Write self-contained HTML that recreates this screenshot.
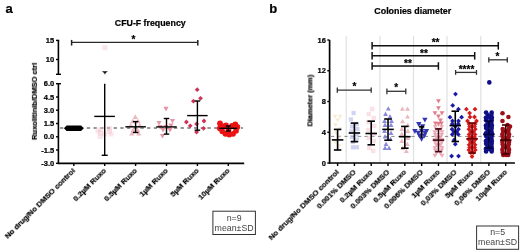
<!DOCTYPE html>
<html><head><meta charset="utf-8"><style>
html,body{margin:0;padding:0;background:#fff;}
svg{display:block;font-family:"Liberation Sans", sans-serif;}
text{will-change:transform;}
text[font-weight="bold"]{stroke:#000;stroke-width:0.22px;}
</style></head><body>
<svg width="520" height="251" viewBox="0 0 520 251">
<rect width="520" height="251" fill="#fff"/>
<text x="5.50" y="13.30" font-size="13" font-weight="bold" text-anchor="start" fill="#000" >a</text>
<text x="114.80" y="26.00" font-size="8.8" font-weight="bold" text-anchor="start" fill="#000" >CFU-F frequency</text>
<line x1="58.40" y1="40.40" x2="58.40" y2="74.30" stroke="#000" stroke-width="1.6" />
<line x1="56.00" y1="40.40" x2="59.20" y2="40.40" stroke="#000" stroke-width="1.4" />
<line x1="56.00" y1="59.50" x2="58.40" y2="59.50" stroke="#000" stroke-width="1.4" />
<line x1="56.00" y1="74.30" x2="61.00" y2="74.30" stroke="#000" stroke-width="1.4" />
<line x1="58.40" y1="83.70" x2="58.40" y2="164.10" stroke="#000" stroke-width="1.6" />
<line x1="56.00" y1="83.70" x2="61.00" y2="83.70" stroke="#000" stroke-width="1.4" />
<line x1="56.00" y1="97.00" x2="58.40" y2="97.00" stroke="#000" stroke-width="1.4" />
<line x1="56.00" y1="110.20" x2="58.40" y2="110.20" stroke="#000" stroke-width="1.4" />
<line x1="56.00" y1="123.50" x2="58.40" y2="123.50" stroke="#000" stroke-width="1.4" />
<line x1="56.00" y1="136.80" x2="58.40" y2="136.80" stroke="#000" stroke-width="1.4" />
<line x1="56.00" y1="150.00" x2="58.40" y2="150.00" stroke="#000" stroke-width="1.4" />
<line x1="56.00" y1="163.30" x2="58.40" y2="163.30" stroke="#000" stroke-width="1.4" />
<text x="54.20" y="43.00" font-size="7.5" font-weight="bold" text-anchor="end" fill="#000" >15</text>
<text x="54.20" y="62.10" font-size="7.5" font-weight="bold" text-anchor="end" fill="#000" >10</text>
<text x="54.20" y="86.30" font-size="7.5" font-weight="bold" text-anchor="end" fill="#000" >6.0</text>
<text x="54.20" y="99.60" font-size="7.5" font-weight="bold" text-anchor="end" fill="#000" >4.5</text>
<text x="54.20" y="112.80" font-size="7.5" font-weight="bold" text-anchor="end" fill="#000" >3.0</text>
<text x="54.20" y="126.10" font-size="7.5" font-weight="bold" text-anchor="end" fill="#000" >1.5</text>
<text x="54.20" y="139.40" font-size="7.5" font-weight="bold" text-anchor="end" fill="#000" >0.0</text>
<text x="54.20" y="152.60" font-size="7.5" font-weight="bold" text-anchor="end" fill="#000" >-1.5</text>
<text x="54.20" y="165.90" font-size="7.5" font-weight="bold" text-anchor="end" fill="#000" >-3.0</text>
<text transform="translate(36.9 101.4) rotate(-90)" font-size="7.5" font-weight="bold" text-anchor="middle">Ruxolitinib/DMSO ctrl</text>
<line x1="57.90" y1="163.30" x2="244.20" y2="163.30" stroke="#000" stroke-width="1.7" />
<line x1="73.80" y1="163.30" x2="73.80" y2="166.00" stroke="#000" stroke-width="1.4" />
<line x1="104.70" y1="163.30" x2="104.70" y2="166.00" stroke="#000" stroke-width="1.4" />
<line x1="135.60" y1="163.30" x2="135.60" y2="166.00" stroke="#000" stroke-width="1.4" />
<line x1="166.50" y1="163.30" x2="166.50" y2="166.00" stroke="#000" stroke-width="1.4" />
<line x1="197.40" y1="163.30" x2="197.40" y2="166.00" stroke="#000" stroke-width="1.4" />
<line x1="228.30" y1="163.30" x2="228.30" y2="166.00" stroke="#000" stroke-width="1.4" />
<line x1="60.00" y1="128.00" x2="243.00" y2="128.00" stroke="#333" stroke-width="1.2" stroke-dasharray="3.3 3.4"/>
<rect x="102.40" y="45.20" width="5.00" height="5.00" fill="#f5c6cf" fill-opacity="0.45"/>
<rect x="97.80" y="127.00" width="5.00" height="5.00" fill="#f5c6cf" fill-opacity="0.45"/>
<rect x="97.80" y="130.50" width="5.00" height="5.00" fill="#f5c6cf" fill-opacity="0.45"/>
<rect x="97.80" y="134.00" width="5.00" height="5.00" fill="#f5c6cf" fill-opacity="0.45"/>
<rect x="107.00" y="126.00" width="5.00" height="5.00" fill="#f5c6cf" fill-opacity="0.45"/>
<rect x="107.00" y="129.00" width="5.00" height="5.00" fill="#f5c6cf" fill-opacity="0.45"/>
<rect x="102.00" y="131.50" width="5.00" height="5.00" fill="#f5c6cf" fill-opacity="0.45"/>
<rect x="95.50" y="128.50" width="5.00" height="5.00" fill="#f5c6cf" fill-opacity="0.45"/>
<rect x="108.50" y="131.50" width="5.00" height="5.00" fill="#f5c6cf" fill-opacity="0.45"/>
<line x1="104.70" y1="116.40" x2="104.70" y2="155.30" stroke="#000" stroke-width="1.4" />
<line x1="104.70" y1="83.70" x2="104.70" y2="116.40" stroke="#000" stroke-width="1.4" />
<line x1="94.30" y1="116.40" x2="114.90" y2="116.40" stroke="#000" stroke-width="1.4" />
<line x1="101.70" y1="155.30" x2="107.70" y2="155.30" stroke="#000" stroke-width="1.4" />
<path d="M101.9 71.2L107.9 71.2L105.4 73.2L105.4 74.3L104.4 74.3L104.4 73.2Z" fill="#111"/>
<path d="M63.9 128.2L66.6 125.5L81.1 125.5L83.8 128.2L81.1 130.9L66.6 130.9Z" fill="#000"/>
<path d="M135.30 114.20L137.90 118.88L132.70 118.88Z" fill="#eba9b3" fill-opacity="0.85"/>
<path d="M132.80 118.60L135.40 123.28L130.20 123.28Z" fill="#eba9b3" fill-opacity="0.85"/>
<path d="M138.00 118.60L140.60 123.28L135.40 123.28Z" fill="#eba9b3" fill-opacity="0.85"/>
<path d="M130.80 122.90L133.40 127.58L128.20 127.58Z" fill="#eba9b3" fill-opacity="0.85"/>
<path d="M139.80 122.90L142.40 127.58L137.20 127.58Z" fill="#eba9b3" fill-opacity="0.85"/>
<path d="M133.20 127.20L135.80 131.88L130.60 131.88Z" fill="#eba9b3" fill-opacity="0.85"/>
<path d="M137.60 127.20L140.20 131.88L135.00 131.88Z" fill="#eba9b3" fill-opacity="0.85"/>
<path d="M131.80 130.90L134.40 135.58L129.20 135.58Z" fill="#eba9b3" fill-opacity="0.85"/>
<path d="M138.80 130.90L141.40 135.58L136.20 135.58Z" fill="#eba9b3" fill-opacity="0.85"/>
<line x1="135.60" y1="121.60" x2="135.60" y2="132.50" stroke="#000" stroke-width="1.4" />
<line x1="125.35" y1="126.80" x2="145.85" y2="126.80" stroke="#000" stroke-width="1.4" />
<line x1="132.85" y1="121.60" x2="138.35" y2="121.60" stroke="#000" stroke-width="1.4" />
<line x1="132.85" y1="132.50" x2="138.35" y2="132.50" stroke="#000" stroke-width="1.4" />
<path d="M166.00 111.40L168.60 106.72L163.40 106.72Z" fill="#e3899a" fill-opacity="0.9"/>
<path d="M159.00 125.60L161.60 120.92L156.40 120.92Z" fill="#e3899a" fill-opacity="0.9"/>
<path d="M172.50 123.60L175.10 118.92L169.90 118.92Z" fill="#e3899a" fill-opacity="0.9"/>
<path d="M163.00 132.60L165.60 127.92L160.40 127.92Z" fill="#e3899a" fill-opacity="0.9"/>
<path d="M170.00 132.60L172.60 127.92L167.40 127.92Z" fill="#e3899a" fill-opacity="0.9"/>
<path d="M162.50 138.60L165.10 133.92L159.90 133.92Z" fill="#e3899a" fill-opacity="0.9"/>
<path d="M166.00 129.60L168.60 124.92L163.40 124.92Z" fill="#e3899a" fill-opacity="0.9"/>
<path d="M160.00 129.60L162.60 124.92L157.40 124.92Z" fill="#e3899a" fill-opacity="0.9"/>
<path d="M171.00 128.10L173.60 123.42L168.40 123.42Z" fill="#e3899a" fill-opacity="0.9"/>
<line x1="166.50" y1="118.50" x2="166.50" y2="134.10" stroke="#000" stroke-width="1.4" />
<line x1="156.25" y1="126.90" x2="176.75" y2="126.90" stroke="#000" stroke-width="1.4" />
<line x1="163.75" y1="118.50" x2="169.25" y2="118.50" stroke="#000" stroke-width="1.4" />
<line x1="163.75" y1="134.10" x2="169.25" y2="134.10" stroke="#000" stroke-width="1.4" />
<path d="M197.20 87.30L199.60 89.70L197.20 92.10L194.80 89.70Z" fill="#cc3355"/>
<path d="M200.50 95.90L202.90 98.30L200.50 100.70L198.10 98.30Z" fill="#cc3355"/>
<path d="M193.40 98.80L195.80 101.20L193.40 103.60L191.00 101.20Z" fill="#cc3355"/>
<path d="M186.40 119.60L188.80 122.00L186.40 124.40L184.00 122.00Z" fill="#cc3355"/>
<path d="M190.20 123.40L192.60 125.80L190.20 128.20L187.80 125.80Z" fill="#cc3355"/>
<path d="M196.60 121.50L199.00 123.90L196.60 126.30L194.20 123.90Z" fill="#cc3355"/>
<path d="M204.00 118.60L206.40 121.00L204.00 123.40L201.60 121.00Z" fill="#cc3355"/>
<path d="M203.60 125.90L206.00 128.30L203.60 130.70L201.20 128.30Z" fill="#cc3355"/>
<path d="M196.60 129.70L199.00 132.10L196.60 134.50L194.20 132.10Z" fill="#cc3355"/>
<line x1="197.40" y1="101.00" x2="197.40" y2="130.20" stroke="#000" stroke-width="1.4" />
<line x1="187.15" y1="115.60" x2="207.65" y2="115.60" stroke="#000" stroke-width="1.4" />
<line x1="194.65" y1="101.00" x2="200.15" y2="101.00" stroke="#000" stroke-width="1.4" />
<line x1="194.65" y1="130.20" x2="200.15" y2="130.20" stroke="#000" stroke-width="1.4" />
<circle cx="220.00" cy="123.50" r="2.90" fill="#ec1313"/>
<circle cx="223.00" cy="126.50" r="2.90" fill="#ec1313"/>
<circle cx="219.80" cy="128.30" r="2.90" fill="#ec1313"/>
<circle cx="226.00" cy="125.50" r="2.90" fill="#ec1313"/>
<circle cx="232.00" cy="126.00" r="2.90" fill="#ec1313"/>
<circle cx="235.30" cy="124.30" r="2.90" fill="#ec1313"/>
<circle cx="237.30" cy="127.00" r="2.90" fill="#ec1313"/>
<circle cx="236.00" cy="130.80" r="2.90" fill="#ec1313"/>
<circle cx="222.30" cy="131.30" r="2.90" fill="#ec1313"/>
<circle cx="225.50" cy="133.80" r="2.90" fill="#ec1313"/>
<circle cx="229.30" cy="134.60" r="2.90" fill="#ec1313"/>
<circle cx="233.00" cy="133.80" r="2.90" fill="#ec1313"/>
<circle cx="228.50" cy="129.50" r="2.90" fill="#ec1313"/>
<line x1="228.30" y1="126.00" x2="228.30" y2="131.00" stroke="#000" stroke-width="1.4" />
<line x1="219.30" y1="128.30" x2="237.30" y2="128.30" stroke="#000" stroke-width="1.4" />
<line x1="225.80" y1="126.00" x2="230.80" y2="126.00" stroke="#000" stroke-width="1.4" />
<line x1="225.80" y1="131.00" x2="230.80" y2="131.00" stroke="#000" stroke-width="1.4" />
<line x1="71.60" y1="42.40" x2="197.80" y2="42.40" stroke="#2a2a2a" stroke-width="1.1" />
<line x1="71.60" y1="39.90" x2="71.60" y2="45.60" stroke="#222" stroke-width="1.5" />
<line x1="197.80" y1="39.90" x2="197.80" y2="45.60" stroke="#222" stroke-width="1.5" />
<text x="133.40" y="42.60" font-size="10" font-weight="bold" text-anchor="middle" fill="#000" >*</text>
<text transform="translate(75.70 171.2) rotate(-45)" font-size="7.75" font-weight="bold" text-anchor="end">No drug/No DMSO control</text>
<text transform="translate(106.60 171.2) rotate(-45)" font-size="7.75" font-weight="bold" text-anchor="end">0.2µM Ruxo</text>
<text transform="translate(137.50 171.2) rotate(-45)" font-size="7.75" font-weight="bold" text-anchor="end">0.5µM Ruxo</text>
<text transform="translate(168.40 171.2) rotate(-45)" font-size="7.75" font-weight="bold" text-anchor="end">1µM Ruxo</text>
<text transform="translate(199.30 171.2) rotate(-45)" font-size="7.75" font-weight="bold" text-anchor="end">5µM Ruxo</text>
<text transform="translate(230.20 171.2) rotate(-45)" font-size="7.75" font-weight="bold" text-anchor="end">10µM Ruxo</text>
<rect x="212.9" y="211.2" width="42.5" height="23.3" fill="none" stroke="#333" stroke-width="1"/>
<text x="234.10" y="221.20" font-size="8.8" font-weight="normal" text-anchor="middle" fill="#444" >n=9</text>
<text x="234.10" y="230.70" font-size="8.8" font-weight="normal" text-anchor="middle" fill="#444" >mean±SD</text>
<text x="269.30" y="12.80" font-size="13" font-weight="bold" text-anchor="start" fill="#000" >b</text>
<text x="374.30" y="13.50" font-size="8.9" font-weight="bold" text-anchor="start" fill="#000" >Colonies diameter</text>
<line x1="346.20" y1="36.00" x2="346.20" y2="163.00" stroke="#e0e0e0" stroke-width="1.2" />
<line x1="379.90" y1="36.00" x2="379.90" y2="163.00" stroke="#e0e0e0" stroke-width="1.2" />
<line x1="413.50" y1="36.00" x2="413.50" y2="163.00" stroke="#e0e0e0" stroke-width="1.2" />
<line x1="447.00" y1="36.00" x2="447.00" y2="163.00" stroke="#e0e0e0" stroke-width="1.2" />
<line x1="480.80" y1="36.00" x2="480.80" y2="163.00" stroke="#e0e0e0" stroke-width="1.2" />
<line x1="329.60" y1="40.00" x2="329.60" y2="163.80" stroke="#000" stroke-width="1.7" />
<line x1="327.30" y1="163.00" x2="329.60" y2="163.00" stroke="#000" stroke-width="1.4" />
<text x="325.90" y="165.60" font-size="7.5" font-weight="bold" text-anchor="end" fill="#000" >0</text>
<line x1="327.30" y1="132.25" x2="329.60" y2="132.25" stroke="#000" stroke-width="1.4" />
<text x="325.90" y="134.85" font-size="7.5" font-weight="bold" text-anchor="end" fill="#000" >4</text>
<line x1="327.30" y1="101.50" x2="329.60" y2="101.50" stroke="#000" stroke-width="1.4" />
<text x="325.90" y="104.10" font-size="7.5" font-weight="bold" text-anchor="end" fill="#000" >8</text>
<line x1="327.30" y1="70.75" x2="329.60" y2="70.75" stroke="#000" stroke-width="1.4" />
<text x="325.90" y="73.35" font-size="7.5" font-weight="bold" text-anchor="end" fill="#000" >12</text>
<line x1="327.30" y1="40.00" x2="329.60" y2="40.00" stroke="#000" stroke-width="1.4" />
<text x="325.90" y="42.60" font-size="7.5" font-weight="bold" text-anchor="end" fill="#000" >16</text>
<text transform="translate(312.4 100.6) rotate(-90)" font-size="7.4" font-weight="bold" text-anchor="middle">Diameter (mm)</text>
<line x1="329.20" y1="163.00" x2="514.90" y2="163.00" stroke="#000" stroke-width="1.7" />
<line x1="337.60" y1="163.00" x2="337.60" y2="166.00" stroke="#000" stroke-width="1.4" />
<line x1="354.41" y1="163.00" x2="354.41" y2="166.00" stroke="#000" stroke-width="1.4" />
<line x1="371.22" y1="163.00" x2="371.22" y2="166.00" stroke="#000" stroke-width="1.4" />
<line x1="388.03" y1="163.00" x2="388.03" y2="166.00" stroke="#000" stroke-width="1.4" />
<line x1="404.84" y1="163.00" x2="404.84" y2="166.00" stroke="#000" stroke-width="1.4" />
<line x1="421.65" y1="163.00" x2="421.65" y2="166.00" stroke="#000" stroke-width="1.4" />
<line x1="438.46" y1="163.00" x2="438.46" y2="166.00" stroke="#000" stroke-width="1.4" />
<line x1="455.27" y1="163.00" x2="455.27" y2="166.00" stroke="#000" stroke-width="1.4" />
<line x1="472.08" y1="163.00" x2="472.08" y2="166.00" stroke="#000" stroke-width="1.4" />
<line x1="488.89" y1="163.00" x2="488.89" y2="166.00" stroke="#000" stroke-width="1.4" />
<line x1="505.70" y1="163.00" x2="505.70" y2="166.00" stroke="#000" stroke-width="1.4" />
<line x1="331.00" y1="136.40" x2="514.00" y2="136.40" stroke="#8a8a8a" stroke-width="1.0" stroke-dasharray="3.3 3.4"/>
<path d="M335.10 118.80L337.40 114.66L332.80 114.66Z" fill="#f3d6a6" fill-opacity="0.5"/>
<path d="M340.10 118.80L342.40 114.66L337.80 114.66Z" fill="#f3d6a6" fill-opacity="0.5"/>
<path d="M337.60 122.30L339.90 118.16L335.30 118.16Z" fill="#f3d6a6" fill-opacity="0.5"/>
<path d="M335.60 127.30L337.90 123.16L333.30 123.16Z" fill="#f3d6a6" fill-opacity="0.5"/>
<path d="M339.60 131.30L341.90 127.16L337.30 127.16Z" fill="#f3d6a6" fill-opacity="0.5"/>
<path d="M336.10 135.30L338.40 131.16L333.80 131.16Z" fill="#f3d6a6" fill-opacity="0.5"/>
<path d="M339.60 139.30L341.90 135.16L337.30 135.16Z" fill="#f3d6a6" fill-opacity="0.5"/>
<path d="M335.60 144.30L337.90 140.16L333.30 140.16Z" fill="#f3d6a6" fill-opacity="0.5"/>
<path d="M339.10 148.30L341.40 144.16L336.80 144.16Z" fill="#f3d6a6" fill-opacity="0.5"/>
<rect x="351.51" y="110.90" width="4.20" height="4.20" fill="#b4b4ea" fill-opacity="0.6"/>
<rect x="348.81" y="117.40" width="4.20" height="4.20" fill="#b4b4ea" fill-opacity="0.6"/>
<rect x="354.81" y="121.90" width="4.20" height="4.20" fill="#b4b4ea" fill-opacity="0.6"/>
<rect x="349.81" y="124.40" width="4.20" height="4.20" fill="#b4b4ea" fill-opacity="0.6"/>
<rect x="355.31" y="126.90" width="4.20" height="4.20" fill="#b4b4ea" fill-opacity="0.6"/>
<rect x="349.31" y="129.40" width="4.20" height="4.20" fill="#b4b4ea" fill-opacity="0.6"/>
<rect x="354.81" y="132.40" width="4.20" height="4.20" fill="#b4b4ea" fill-opacity="0.6"/>
<rect x="349.81" y="134.90" width="4.20" height="4.20" fill="#b4b4ea" fill-opacity="0.6"/>
<rect x="354.81" y="137.40" width="4.20" height="4.20" fill="#b4b4ea" fill-opacity="0.6"/>
<rect x="350.81" y="139.90" width="4.20" height="4.20" fill="#b4b4ea" fill-opacity="0.6"/>
<rect x="350.81" y="145.20" width="4.20" height="4.20" fill="#b4b4ea" fill-opacity="0.6"/>
<rect x="354.81" y="145.20" width="4.20" height="4.20" fill="#b4b4ea" fill-opacity="0.6"/>
<rect x="370.02" y="106.80" width="4.40" height="4.40" fill="#f5c4cc" fill-opacity="0.5"/>
<rect x="366.52" y="111.80" width="4.40" height="4.40" fill="#f5c4cc" fill-opacity="0.5"/>
<rect x="371.52" y="115.80" width="4.40" height="4.40" fill="#f5c4cc" fill-opacity="0.5"/>
<rect x="366.02" y="119.80" width="4.40" height="4.40" fill="#f5c4cc" fill-opacity="0.5"/>
<rect x="372.02" y="123.80" width="4.40" height="4.40" fill="#f5c4cc" fill-opacity="0.5"/>
<rect x="366.02" y="127.80" width="4.40" height="4.40" fill="#f5c4cc" fill-opacity="0.5"/>
<rect x="372.02" y="131.80" width="4.40" height="4.40" fill="#f5c4cc" fill-opacity="0.5"/>
<rect x="366.52" y="135.80" width="4.40" height="4.40" fill="#f5c4cc" fill-opacity="0.5"/>
<rect x="371.52" y="138.80" width="4.40" height="4.40" fill="#f5c4cc" fill-opacity="0.5"/>
<rect x="367.02" y="145.80" width="4.40" height="4.40" fill="#f5c4cc" fill-opacity="0.5"/>
<rect x="371.02" y="148.80" width="4.40" height="4.40" fill="#f5c4cc" fill-opacity="0.5"/>
<path d="M388.33 106.20L390.73 110.52L385.93 110.52Z" fill="#7676d6" fill-opacity="0.85"/>
<path d="M385.53 111.60L387.93 115.92L383.13 115.92Z" fill="#7676d6" fill-opacity="0.85"/>
<path d="M390.03 114.10L392.43 118.42L387.63 118.42Z" fill="#7676d6" fill-opacity="0.85"/>
<path d="M384.53 118.60L386.93 122.92L382.13 122.92Z" fill="#7676d6" fill-opacity="0.85"/>
<path d="M391.53 118.60L393.93 122.92L389.13 122.92Z" fill="#7676d6" fill-opacity="0.85"/>
<path d="M385.03 122.60L387.43 126.92L382.63 126.92Z" fill="#7676d6" fill-opacity="0.85"/>
<path d="M391.03 122.60L393.43 126.92L388.63 126.92Z" fill="#7676d6" fill-opacity="0.85"/>
<path d="M384.53 128.60L386.93 132.92L382.13 132.92Z" fill="#7676d6" fill-opacity="0.85"/>
<path d="M391.03 130.60L393.43 134.92L388.63 134.92Z" fill="#7676d6" fill-opacity="0.85"/>
<path d="M385.03 134.10L387.43 138.42L382.63 138.42Z" fill="#7676d6" fill-opacity="0.85"/>
<path d="M390.53 136.60L392.93 140.92L388.13 140.92Z" fill="#7676d6" fill-opacity="0.85"/>
<path d="M386.03 141.60L388.43 145.92L383.63 145.92Z" fill="#7676d6" fill-opacity="0.85"/>
<path d="M389.03 145.60L391.43 149.92L386.63 149.92Z" fill="#7676d6" fill-opacity="0.85"/>
<path d="M385.03 145.60L387.43 149.92L382.63 149.92Z" fill="#7676d6" fill-opacity="0.85"/>
<path d="M402.34 106.40L404.74 110.72L399.94 110.72Z" fill="#e8aab2" fill-opacity="0.85"/>
<path d="M407.54 106.40L409.94 110.72L405.14 110.72Z" fill="#e8aab2" fill-opacity="0.85"/>
<path d="M407.54 114.20L409.94 118.52L405.14 118.52Z" fill="#e8aab2" fill-opacity="0.85"/>
<path d="M402.54 118.90L404.94 123.22L400.14 123.22Z" fill="#e8aab2" fill-opacity="0.85"/>
<path d="M407.84 122.60L410.24 126.92L405.44 126.92Z" fill="#e8aab2" fill-opacity="0.85"/>
<path d="M401.84 126.60L404.24 130.92L399.44 130.92Z" fill="#e8aab2" fill-opacity="0.85"/>
<path d="M407.84 128.60L410.24 132.92L405.44 132.92Z" fill="#e8aab2" fill-opacity="0.85"/>
<path d="M401.84 131.60L404.24 135.92L399.44 135.92Z" fill="#e8aab2" fill-opacity="0.85"/>
<path d="M407.84 135.60L410.24 139.92L405.44 139.92Z" fill="#e8aab2" fill-opacity="0.85"/>
<path d="M401.84 138.60L404.24 142.92L399.44 142.92Z" fill="#e8aab2" fill-opacity="0.85"/>
<path d="M407.34 141.60L409.74 145.92L404.94 145.92Z" fill="#e8aab2" fill-opacity="0.85"/>
<path d="M402.84 145.60L405.24 149.92L400.44 149.92Z" fill="#e8aab2" fill-opacity="0.85"/>
<path d="M406.34 148.60L408.74 152.92L403.94 152.92Z" fill="#e8aab2" fill-opacity="0.85"/>
<path d="M424.90 122.60L427.60 117.74L422.20 117.74Z" fill="#3434b4"/>
<path d="M418.80 126.90L421.50 122.04L416.10 122.04Z" fill="#3434b4"/>
<path d="M422.60 129.00L425.30 124.14L419.90 124.14Z" fill="#3434b4"/>
<path d="M414.90 133.90L417.60 129.04L412.20 129.04Z" fill="#3434b4"/>
<path d="M426.40 133.90L429.10 129.04L423.70 129.04Z" fill="#3434b4"/>
<path d="M418.20 135.50L420.90 130.64L415.50 130.64Z" fill="#3434b4"/>
<path d="M425.00 135.50L427.70 130.64L422.30 130.64Z" fill="#3434b4"/>
<path d="M421.60 133.70L424.30 128.84L418.90 128.84Z" fill="#3434b4"/>
<path d="M419.50 138.40L422.20 133.54L416.80 133.54Z" fill="#3434b4"/>
<path d="M424.30 138.40L427.00 133.54L421.60 133.54Z" fill="#3434b4"/>
<path d="M421.60 141.70L424.30 136.84L418.90 136.84Z" fill="#3434b4"/>
<path d="M438.46 103.50L440.86 99.18L436.06 99.18Z" fill="#dc6878" fill-opacity="0.85"/>
<path d="M438.46 110.50L440.86 106.18L436.06 106.18Z" fill="#dc6878" fill-opacity="0.85"/>
<path d="M434.96 115.60L437.36 111.28L432.56 111.28Z" fill="#dc6878" fill-opacity="0.85"/>
<path d="M441.96 115.60L444.36 111.28L439.56 111.28Z" fill="#dc6878" fill-opacity="0.85"/>
<path d="M438.46 118.70L440.86 114.38L436.06 114.38Z" fill="#dc6878" fill-opacity="0.85"/>
<path d="M440.46 122.90L442.86 118.58L438.06 118.58Z" fill="#dc6878" fill-opacity="0.85"/>
<path d="M435.46 125.80L437.86 121.48L433.06 121.48Z" fill="#dc6878" fill-opacity="0.85"/>
<path d="M441.46 125.80L443.86 121.48L439.06 121.48Z" fill="#dc6878" fill-opacity="0.85"/>
<path d="M438.46 126.40L440.86 122.08L436.06 122.08Z" fill="#dc6878" fill-opacity="0.85"/>
<path d="M435.26 129.40L437.66 125.08L432.86 125.08Z" fill="#e99aa6" fill-opacity="0.8"/>
<path d="M441.66 129.40L444.06 125.08L439.26 125.08Z" fill="#e99aa6" fill-opacity="0.8"/>
<path d="M436.46 132.00L438.86 127.68L434.06 127.68Z" fill="#e99aa6" fill-opacity="0.8"/>
<path d="M440.46 132.00L442.86 127.68L438.06 127.68Z" fill="#e99aa6" fill-opacity="0.8"/>
<path d="M434.86 134.60L437.26 130.28L432.46 130.28Z" fill="#e99aa6" fill-opacity="0.8"/>
<path d="M442.06 134.60L444.46 130.28L439.66 130.28Z" fill="#e99aa6" fill-opacity="0.8"/>
<path d="M435.26 137.20L437.66 132.88L432.86 132.88Z" fill="#e99aa6" fill-opacity="0.8"/>
<path d="M441.66 137.20L444.06 132.88L439.26 132.88Z" fill="#e99aa6" fill-opacity="0.8"/>
<path d="M436.46 139.80L438.86 135.48L434.06 135.48Z" fill="#e99aa6" fill-opacity="0.8"/>
<path d="M440.46 139.80L442.86 135.48L438.06 135.48Z" fill="#e99aa6" fill-opacity="0.8"/>
<path d="M434.86 142.40L437.26 138.08L432.46 138.08Z" fill="#e99aa6" fill-opacity="0.8"/>
<path d="M442.06 142.40L444.46 138.08L439.66 138.08Z" fill="#e99aa6" fill-opacity="0.8"/>
<path d="M435.26 145.00L437.66 140.68L432.86 140.68Z" fill="#e99aa6" fill-opacity="0.8"/>
<path d="M441.66 145.00L444.06 140.68L439.26 140.68Z" fill="#e99aa6" fill-opacity="0.8"/>
<path d="M436.46 147.60L438.86 143.28L434.06 143.28Z" fill="#e99aa6" fill-opacity="0.8"/>
<path d="M440.46 147.60L442.86 143.28L438.06 143.28Z" fill="#e99aa6" fill-opacity="0.8"/>
<path d="M434.86 150.20L437.26 145.88L432.46 145.88Z" fill="#e99aa6" fill-opacity="0.8"/>
<path d="M442.06 150.20L444.46 145.88L439.66 145.88Z" fill="#e99aa6" fill-opacity="0.8"/>
<path d="M435.26 152.80L437.66 148.48L432.86 148.48Z" fill="#e99aa6" fill-opacity="0.8"/>
<path d="M441.66 152.80L444.06 148.48L439.26 148.48Z" fill="#e99aa6" fill-opacity="0.8"/>
<path d="M436.46 155.40L438.86 151.08L434.06 151.08Z" fill="#e99aa6" fill-opacity="0.8"/>
<path d="M440.46 155.40L442.86 151.08L438.06 151.08Z" fill="#e99aa6" fill-opacity="0.8"/>
<path d="M434.86 158.00L437.26 153.68L432.46 153.68Z" fill="#e99aa6" fill-opacity="0.8"/>
<path d="M442.06 158.00L444.46 153.68L439.66 153.68Z" fill="#e99aa6" fill-opacity="0.8"/>
<path d="M455.50 91.70L457.90 94.10L455.50 96.50L453.10 94.10Z" fill="#1a1aa6"/>
<path d="M452.70 103.00L455.10 105.40L452.70 107.80L450.30 105.40Z" fill="#1a1aa6"/>
<path d="M458.40 106.80L460.80 109.20L458.40 111.60L456.00 109.20Z" fill="#1a1aa6"/>
<path d="M450.00 114.80L452.40 117.20L450.00 119.60L447.60 117.20Z" fill="#1a1aa6"/>
<path d="M461.60 114.80L464.00 117.20L461.60 119.60L459.20 117.20Z" fill="#1a1aa6"/>
<path d="M452.50 118.60L454.90 121.00L452.50 123.40L450.10 121.00Z" fill="#1a1aa6"/>
<path d="M458.50 118.60L460.90 121.00L458.50 123.40L456.10 121.00Z" fill="#1a1aa6"/>
<path d="M452.27 121.60L454.67 124.00L452.27 126.40L449.87 124.00Z" fill="#1a1aa6"/>
<path d="M458.27 121.60L460.67 124.00L458.27 126.40L455.87 124.00Z" fill="#1a1aa6"/>
<path d="M455.27 124.20L457.67 126.60L455.27 129.00L452.87 126.60Z" fill="#1a1aa6"/>
<path d="M452.07 126.80L454.47 129.20L452.07 131.60L449.67 129.20Z" fill="#1a1aa6"/>
<path d="M458.47 126.80L460.87 129.20L458.47 131.60L456.07 129.20Z" fill="#1a1aa6"/>
<path d="M453.77 129.40L456.17 131.80L453.77 134.20L451.37 131.80Z" fill="#1a1aa6"/>
<path d="M456.77 129.40L459.17 131.80L456.77 134.20L454.37 131.80Z" fill="#1a1aa6"/>
<path d="M452.27 132.00L454.67 134.40L452.27 136.80L449.87 134.40Z" fill="#1a1aa6"/>
<path d="M458.27 132.00L460.67 134.40L458.27 136.80L455.87 134.40Z" fill="#1a1aa6"/>
<path d="M454.20 137.60L456.60 140.00L454.20 142.40L451.80 140.00Z" fill="#1a1aa6"/>
<path d="M455.30 141.80L457.70 144.20L455.30 146.60L452.90 144.20Z" fill="#1a1aa6"/>
<path d="M451.60 153.70L454.00 156.10L451.60 158.50L449.20 156.10Z" fill="#1a1aa6"/>
<path d="M458.50 153.70L460.90 156.10L458.50 158.50L456.10 156.10Z" fill="#1a1aa6"/>
<path d="M466.40 106.80L468.80 109.20L466.40 111.60L464.00 109.20Z" fill="#d41c1c"/>
<path d="M475.00 106.80L477.40 109.20L475.00 111.60L472.60 109.20Z" fill="#d41c1c"/>
<path d="M469.60 110.70L472.00 113.10L469.60 115.50L467.20 113.10Z" fill="#d41c1c"/>
<path d="M470.00 114.60L472.40 117.00L470.00 119.40L467.60 117.00Z" fill="#d41c1c"/>
<path d="M474.50 114.60L476.90 117.00L474.50 119.40L472.10 117.00Z" fill="#d41c1c"/>
<path d="M467.50 118.60L469.90 121.00L467.50 123.40L465.10 121.00Z" fill="#d41c1c"/>
<path d="M476.50 118.60L478.90 121.00L476.50 123.40L474.10 121.00Z" fill="#d41c1c"/>
<path d="M469.08 121.60L471.48 124.00L469.08 126.40L466.68 124.00Z" fill="#d41c1c"/>
<path d="M475.08 121.60L477.48 124.00L475.08 126.40L472.68 124.00Z" fill="#d41c1c"/>
<path d="M469.58 124.20L471.98 126.60L469.58 129.00L467.18 126.60Z" fill="#d41c1c"/>
<path d="M472.08 124.20L474.48 126.60L472.08 129.00L469.68 126.60Z" fill="#d41c1c"/>
<path d="M474.58 124.20L476.98 126.60L474.58 129.00L472.18 126.60Z" fill="#d41c1c"/>
<path d="M468.88 126.80L471.28 129.20L468.88 131.60L466.48 129.20Z" fill="#d41c1c"/>
<path d="M475.28 126.80L477.68 129.20L475.28 131.60L472.88 129.20Z" fill="#d41c1c"/>
<path d="M470.58 129.40L472.98 131.80L470.58 134.20L468.18 131.80Z" fill="#d41c1c"/>
<path d="M473.58 129.40L475.98 131.80L473.58 134.20L471.18 131.80Z" fill="#d41c1c"/>
<path d="M469.08 132.00L471.48 134.40L469.08 136.80L466.68 134.40Z" fill="#d41c1c"/>
<path d="M475.08 132.00L477.48 134.40L475.08 136.80L472.68 134.40Z" fill="#d41c1c"/>
<path d="M469.58 134.60L471.98 137.00L469.58 139.40L467.18 137.00Z" fill="#d41c1c"/>
<path d="M472.08 134.60L474.48 137.00L472.08 139.40L469.68 137.00Z" fill="#d41c1c"/>
<path d="M474.58 134.60L476.98 137.00L474.58 139.40L472.18 137.00Z" fill="#d41c1c"/>
<path d="M468.88 137.20L471.28 139.60L468.88 142.00L466.48 139.60Z" fill="#d41c1c"/>
<path d="M475.28 137.20L477.68 139.60L475.28 142.00L472.88 139.60Z" fill="#d41c1c"/>
<path d="M470.58 139.80L472.98 142.20L470.58 144.60L468.18 142.20Z" fill="#d41c1c"/>
<path d="M473.58 139.80L475.98 142.20L473.58 144.60L471.18 142.20Z" fill="#d41c1c"/>
<path d="M469.08 142.40L471.48 144.80L469.08 147.20L466.68 144.80Z" fill="#d41c1c"/>
<path d="M475.08 142.40L477.48 144.80L475.08 147.20L472.68 144.80Z" fill="#d41c1c"/>
<path d="M469.58 145.00L471.98 147.40L469.58 149.80L467.18 147.40Z" fill="#d41c1c"/>
<path d="M472.08 145.00L474.48 147.40L472.08 149.80L469.68 147.40Z" fill="#d41c1c"/>
<path d="M474.58 145.00L476.98 147.40L474.58 149.80L472.18 147.40Z" fill="#d41c1c"/>
<path d="M468.88 147.60L471.28 150.00L468.88 152.40L466.48 150.00Z" fill="#d41c1c"/>
<path d="M475.28 147.60L477.68 150.00L475.28 152.40L472.88 150.00Z" fill="#d41c1c"/>
<path d="M470.58 150.20L472.98 152.60L470.58 155.00L468.18 152.60Z" fill="#d41c1c"/>
<path d="M473.58 150.20L475.98 152.60L473.58 155.00L471.18 152.60Z" fill="#d41c1c"/>
<path d="M472.00 154.10L474.40 156.50L472.00 158.90L469.60 156.50Z" fill="#d41c1c"/>
<circle cx="489.30" cy="82.40" r="2.30" fill="#0e0e86"/>
<circle cx="486.09" cy="112.50" r="2.30" fill="#0e0e86"/>
<circle cx="491.69" cy="112.50" r="2.30" fill="#0e0e86"/>
<circle cx="487.69" cy="115.10" r="2.30" fill="#0e0e86"/>
<circle cx="491.39" cy="115.10" r="2.30" fill="#0e0e86"/>
<circle cx="485.89" cy="117.70" r="2.30" fill="#0e0e86"/>
<circle cx="489.39" cy="117.70" r="2.30" fill="#0e0e86"/>
<circle cx="491.89" cy="117.70" r="2.30" fill="#0e0e86"/>
<circle cx="486.09" cy="120.30" r="2.30" fill="#0e0e86"/>
<circle cx="491.69" cy="120.30" r="2.30" fill="#0e0e86"/>
<circle cx="487.69" cy="122.90" r="2.30" fill="#0e0e86"/>
<circle cx="491.39" cy="122.90" r="2.30" fill="#0e0e86"/>
<circle cx="485.89" cy="125.50" r="2.30" fill="#0e0e86"/>
<circle cx="489.39" cy="125.50" r="2.30" fill="#0e0e86"/>
<circle cx="491.89" cy="125.50" r="2.30" fill="#0e0e86"/>
<circle cx="486.09" cy="128.10" r="2.30" fill="#0e0e86"/>
<circle cx="491.69" cy="128.10" r="2.30" fill="#0e0e86"/>
<circle cx="487.69" cy="130.70" r="2.30" fill="#0e0e86"/>
<circle cx="491.39" cy="130.70" r="2.30" fill="#0e0e86"/>
<circle cx="485.89" cy="133.30" r="2.30" fill="#0e0e86"/>
<circle cx="489.39" cy="133.30" r="2.30" fill="#0e0e86"/>
<circle cx="491.89" cy="133.30" r="2.30" fill="#0e0e86"/>
<circle cx="486.09" cy="135.90" r="2.30" fill="#0e0e86"/>
<circle cx="491.69" cy="135.90" r="2.30" fill="#0e0e86"/>
<circle cx="487.69" cy="138.50" r="2.30" fill="#0e0e86"/>
<circle cx="491.39" cy="138.50" r="2.30" fill="#0e0e86"/>
<circle cx="485.89" cy="141.10" r="2.30" fill="#0e0e86"/>
<circle cx="489.39" cy="141.10" r="2.30" fill="#0e0e86"/>
<circle cx="491.89" cy="141.10" r="2.30" fill="#0e0e86"/>
<circle cx="486.09" cy="143.70" r="2.30" fill="#0e0e86"/>
<circle cx="491.69" cy="143.70" r="2.30" fill="#0e0e86"/>
<circle cx="487.69" cy="146.30" r="2.30" fill="#0e0e86"/>
<circle cx="491.39" cy="146.30" r="2.30" fill="#0e0e86"/>
<circle cx="485.89" cy="148.90" r="2.30" fill="#0e0e86"/>
<circle cx="489.39" cy="148.90" r="2.30" fill="#0e0e86"/>
<circle cx="491.89" cy="148.90" r="2.30" fill="#0e0e86"/>
<circle cx="486.09" cy="151.50" r="2.30" fill="#0e0e86"/>
<circle cx="491.69" cy="151.50" r="2.30" fill="#0e0e86"/>
<circle cx="502.50" cy="113.30" r="2.30" fill="#9c0e18"/>
<circle cx="508.40" cy="117.00" r="2.30" fill="#9c0e18"/>
<circle cx="502.50" cy="121.00" r="2.30" fill="#9c0e18"/>
<circle cx="507.50" cy="125.00" r="2.30" fill="#9c0e18"/>
<circle cx="510.00" cy="126.50" r="2.30" fill="#9c0e18"/>
<circle cx="502.70" cy="129.00" r="2.30" fill="#9c0e18"/>
<circle cx="508.70" cy="129.00" r="2.30" fill="#9c0e18"/>
<circle cx="503.20" cy="131.60" r="2.30" fill="#9c0e18"/>
<circle cx="506.20" cy="131.60" r="2.30" fill="#9c0e18"/>
<circle cx="508.20" cy="131.60" r="2.30" fill="#9c0e18"/>
<circle cx="502.40" cy="134.20" r="2.30" fill="#9c0e18"/>
<circle cx="509.00" cy="134.20" r="2.30" fill="#9c0e18"/>
<circle cx="502.70" cy="136.80" r="2.30" fill="#9c0e18"/>
<circle cx="508.70" cy="136.80" r="2.30" fill="#9c0e18"/>
<circle cx="503.20" cy="139.40" r="2.30" fill="#9c0e18"/>
<circle cx="506.20" cy="139.40" r="2.30" fill="#9c0e18"/>
<circle cx="508.20" cy="139.40" r="2.30" fill="#9c0e18"/>
<circle cx="502.40" cy="142.00" r="2.30" fill="#9c0e18"/>
<circle cx="509.00" cy="142.00" r="2.30" fill="#9c0e18"/>
<circle cx="502.70" cy="144.60" r="2.30" fill="#9c0e18"/>
<circle cx="508.70" cy="144.60" r="2.30" fill="#9c0e18"/>
<circle cx="503.20" cy="147.20" r="2.30" fill="#9c0e18"/>
<circle cx="506.20" cy="147.20" r="2.30" fill="#9c0e18"/>
<circle cx="508.20" cy="147.20" r="2.30" fill="#9c0e18"/>
<circle cx="502.40" cy="149.80" r="2.30" fill="#9c0e18"/>
<circle cx="509.00" cy="149.80" r="2.30" fill="#9c0e18"/>
<circle cx="502.70" cy="152.40" r="2.30" fill="#9c0e18"/>
<circle cx="508.70" cy="152.40" r="2.30" fill="#9c0e18"/>
<circle cx="503.20" cy="155.00" r="2.30" fill="#9c0e18"/>
<circle cx="506.20" cy="155.00" r="2.30" fill="#9c0e18"/>
<circle cx="508.20" cy="155.00" r="2.30" fill="#9c0e18"/>
<line x1="337.60" y1="129.40" x2="337.60" y2="150.00" stroke="#000" stroke-width="1.6" />
<line x1="331.85" y1="139.90" x2="343.35" y2="139.90" stroke="#000" stroke-width="1.6" />
<line x1="333.85" y1="129.40" x2="341.35" y2="129.40" stroke="#000" stroke-width="1.6" />
<line x1="333.85" y1="150.00" x2="341.35" y2="150.00" stroke="#000" stroke-width="1.6" />
<line x1="354.41" y1="123.10" x2="354.41" y2="141.70" stroke="#000" stroke-width="1.6" />
<line x1="348.66" y1="133.00" x2="360.16" y2="133.00" stroke="#000" stroke-width="1.6" />
<line x1="350.66" y1="123.10" x2="358.16" y2="123.10" stroke="#000" stroke-width="1.6" />
<line x1="350.66" y1="141.70" x2="358.16" y2="141.70" stroke="#000" stroke-width="1.6" />
<line x1="371.22" y1="121.20" x2="371.22" y2="144.80" stroke="#000" stroke-width="1.6" />
<line x1="365.47" y1="133.50" x2="376.97" y2="133.50" stroke="#000" stroke-width="1.6" />
<line x1="367.47" y1="121.20" x2="374.97" y2="121.20" stroke="#000" stroke-width="1.6" />
<line x1="367.47" y1="144.80" x2="374.97" y2="144.80" stroke="#000" stroke-width="1.6" />
<line x1="388.03" y1="119.00" x2="388.03" y2="140.20" stroke="#000" stroke-width="1.6" />
<line x1="382.28" y1="129.40" x2="393.78" y2="129.40" stroke="#000" stroke-width="1.6" />
<line x1="384.28" y1="119.00" x2="391.78" y2="119.00" stroke="#000" stroke-width="1.6" />
<line x1="384.28" y1="140.20" x2="391.78" y2="140.20" stroke="#000" stroke-width="1.6" />
<line x1="404.84" y1="126.40" x2="404.84" y2="148.20" stroke="#000" stroke-width="1.6" />
<line x1="399.09" y1="136.70" x2="410.59" y2="136.70" stroke="#000" stroke-width="1.6" />
<line x1="401.09" y1="126.40" x2="408.59" y2="126.40" stroke="#000" stroke-width="1.6" />
<line x1="401.09" y1="148.20" x2="408.59" y2="148.20" stroke="#000" stroke-width="1.6" />
<line x1="421.65" y1="126.80" x2="421.65" y2="138.00" stroke="#000" stroke-width="1.8" />
<line x1="419.05" y1="126.80" x2="424.25" y2="126.80" stroke="#000" stroke-width="1.8" />
<line x1="438.46" y1="128.90" x2="438.46" y2="151.60" stroke="#3a0610" stroke-width="1.6" />
<line x1="432.71" y1="140.10" x2="444.21" y2="140.10" stroke="#3a0610" stroke-width="1.6" />
<line x1="435.21" y1="128.90" x2="441.71" y2="128.90" stroke="#3a0610" stroke-width="1.6" />
<line x1="435.21" y1="151.60" x2="441.71" y2="151.60" stroke="#3a0610" stroke-width="1.6" />
<line x1="455.27" y1="111.20" x2="455.27" y2="141.50" stroke="#000" stroke-width="1.6" />
<line x1="449.52" y1="125.60" x2="461.02" y2="125.60" stroke="#000" stroke-width="1.6" />
<line x1="451.52" y1="111.20" x2="459.02" y2="111.20" stroke="#000" stroke-width="1.6" />
<line x1="451.52" y1="141.50" x2="459.02" y2="141.50" stroke="#000" stroke-width="1.6" />
<line x1="472.08" y1="123.00" x2="472.08" y2="153.00" stroke="#6a0000" stroke-width="1.6" />
<line x1="466.33" y1="138.80" x2="477.83" y2="138.80" stroke="#6a0000" stroke-width="1.6" />
<line x1="468.33" y1="123.00" x2="475.83" y2="123.00" stroke="#6a0000" stroke-width="1.6" />
<line x1="468.33" y1="153.00" x2="475.83" y2="153.00" stroke="#6a0000" stroke-width="1.6" />
<line x1="488.89" y1="121.00" x2="488.89" y2="148.00" stroke="#00003a" stroke-width="1.6" />
<line x1="483.14" y1="134.50" x2="494.64" y2="134.50" stroke="#00003a" stroke-width="1.6" />
<line x1="485.14" y1="121.00" x2="492.64" y2="121.00" stroke="#00003a" stroke-width="1.6" />
<line x1="485.14" y1="148.00" x2="492.64" y2="148.00" stroke="#00003a" stroke-width="1.6" />
<line x1="505.70" y1="125.00" x2="505.70" y2="154.00" stroke="#400000" stroke-width="1.6" />
<line x1="499.95" y1="140.10" x2="511.45" y2="140.10" stroke="#400000" stroke-width="1.6" />
<line x1="501.95" y1="125.00" x2="509.45" y2="125.00" stroke="#400000" stroke-width="1.6" />
<line x1="501.95" y1="154.00" x2="509.45" y2="154.00" stroke="#400000" stroke-width="1.6" />
<line x1="372.10" y1="45.80" x2="498.30" y2="45.80" stroke="#111" stroke-width="1.5" />
<line x1="372.10" y1="42.00" x2="372.10" y2="49.60" stroke="#111" stroke-width="1.5" />
<line x1="498.30" y1="42.00" x2="498.30" y2="49.60" stroke="#111" stroke-width="1.5" />
<line x1="372.10" y1="55.80" x2="474.70" y2="55.80" stroke="#111" stroke-width="1.5" />
<line x1="372.10" y1="52.00" x2="372.10" y2="59.60" stroke="#111" stroke-width="1.5" />
<line x1="474.70" y1="52.00" x2="474.70" y2="59.60" stroke="#111" stroke-width="1.5" />
<line x1="372.10" y1="66.00" x2="438.40" y2="66.00" stroke="#111" stroke-width="1.5" />
<line x1="372.10" y1="62.20" x2="372.10" y2="69.80" stroke="#111" stroke-width="1.5" />
<line x1="438.40" y1="62.20" x2="438.40" y2="69.80" stroke="#111" stroke-width="1.5" />
<line x1="337.30" y1="90.10" x2="371.20" y2="90.10" stroke="#333" stroke-width="1.3" />
<line x1="337.30" y1="87.50" x2="337.30" y2="92.70" stroke="#333" stroke-width="1.3" />
<line x1="371.20" y1="87.50" x2="371.20" y2="92.70" stroke="#333" stroke-width="1.3" />
<line x1="386.90" y1="91.30" x2="405.80" y2="91.30" stroke="#333" stroke-width="1.3" />
<line x1="386.90" y1="88.40" x2="386.90" y2="94.20" stroke="#333" stroke-width="1.3" />
<line x1="405.80" y1="88.40" x2="405.80" y2="94.20" stroke="#333" stroke-width="1.3" />
<line x1="455.60" y1="72.40" x2="476.50" y2="72.40" stroke="#333" stroke-width="1.3" />
<line x1="455.60" y1="70.00" x2="455.60" y2="74.80" stroke="#333" stroke-width="1.3" />
<line x1="476.50" y1="70.00" x2="476.50" y2="74.80" stroke="#333" stroke-width="1.3" />
<line x1="488.80" y1="59.80" x2="507.30" y2="59.80" stroke="#333" stroke-width="1.3" />
<line x1="488.80" y1="57.20" x2="488.80" y2="62.40" stroke="#333" stroke-width="1.3" />
<line x1="507.30" y1="57.20" x2="507.30" y2="62.40" stroke="#333" stroke-width="1.3" />
<text x="435.60" y="45.50" font-size="10" font-weight="bold" text-anchor="middle" fill="#000" >**</text>
<text x="424.00" y="56.80" font-size="10" font-weight="bold" text-anchor="middle" fill="#000" >**</text>
<text x="408.00" y="67.10" font-size="10" font-weight="bold" text-anchor="middle" fill="#000" >**</text>
<text x="354.50" y="90.00" font-size="10" font-weight="bold" text-anchor="middle" fill="#000" >*</text>
<text x="396.10" y="91.20" font-size="10" font-weight="bold" text-anchor="middle" fill="#000" >*</text>
<text x="466.50" y="72.80" font-size="10" font-weight="bold" text-anchor="middle" fill="#000" >****</text>
<text x="497.40" y="59.60" font-size="10" font-weight="bold" text-anchor="middle" fill="#000" >*</text>
<text transform="translate(339.50 172.6) rotate(-45)" font-size="7.75" font-weight="bold" text-anchor="end">No drug/No DMSO control</text>
<text transform="translate(356.31 172.6) rotate(-45)" font-size="7.75" font-weight="bold" text-anchor="end">0.001% DMSO</text>
<text transform="translate(373.12 172.6) rotate(-45)" font-size="7.75" font-weight="bold" text-anchor="end">0.2µM Ruxo</text>
<text transform="translate(389.93 172.6) rotate(-45)" font-size="7.75" font-weight="bold" text-anchor="end">0.003% DMSO</text>
<text transform="translate(406.74 172.6) rotate(-45)" font-size="7.75" font-weight="bold" text-anchor="end">0.5µM Ruxo</text>
<text transform="translate(423.55 172.6) rotate(-45)" font-size="7.75" font-weight="bold" text-anchor="end">0.006% DMSO</text>
<text transform="translate(440.36 172.6) rotate(-45)" font-size="7.75" font-weight="bold" text-anchor="end">1µM Ruxo</text>
<text transform="translate(457.17 172.6) rotate(-45)" font-size="7.75" font-weight="bold" text-anchor="end">0,03% DMSO</text>
<text transform="translate(473.98 172.6) rotate(-45)" font-size="7.75" font-weight="bold" text-anchor="end">5µM Ruxo</text>
<text transform="translate(490.79 172.6) rotate(-45)" font-size="7.75" font-weight="bold" text-anchor="end">0,06% DMSO</text>
<text transform="translate(507.60 172.6) rotate(-45)" font-size="7.75" font-weight="bold" text-anchor="end">10µM Ruxo</text>
<rect x="476.6" y="226" width="42" height="23.3" fill="none" stroke="#333" stroke-width="1"/>
<text x="497.60" y="235.40" font-size="8.8" font-weight="normal" text-anchor="middle" fill="#444" >n=5</text>
<text x="497.60" y="245.20" font-size="8.8" font-weight="normal" text-anchor="middle" fill="#444" >mean±SD</text>
</svg>
</body></html>
